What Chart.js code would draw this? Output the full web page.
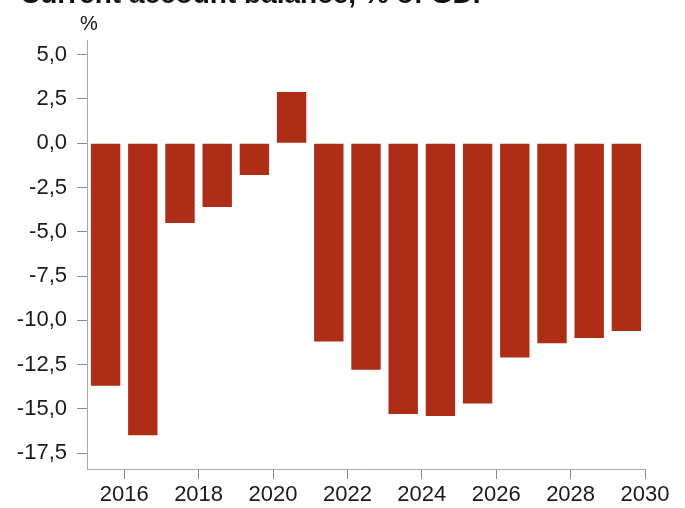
<!DOCTYPE html>
<html lang="en">

<head>
    <meta charset="UTF-8">
    <title>Current account balance</title>
    <script src="https://cdn.jsdelivr.net/npm/chart.js"></script>
    <style>
        body { margin: 0; background: #fff; overflow: hidden; }
        .wrap { position: relative; width: 685px; height: 508px; }
        .title {
            position: absolute; left: 20px; top: -20px; margin: 0;
            font: bold 28px "Liberation Sans", Arial, sans-serif; line-height: 28px;
            color: #111; white-space: nowrap;
        }
    </style>
</head>

<body>
    <div class="wrap">
        <div class="title">Current account balance, % of GDP</div>
        <canvas id="caChart"></canvas>
    </div>
    <script>
        // данные
        const years = [2016, 2017, 2018, 2019, 2020, 2021, 2022, 2023, 2024, 2025, 2026, 2027, 2028, 2029, 2030];
        const balance = [-13.7, -16.5, -4.5, -3.6, -1.8, 2.9, -11.2, -12.8, -15.3, -15.4, -14.7, -12.1, -11.3, -11.0, -10.6];
        const yTicks = [5, 2.5, 0, -2.5, -5, -7.5, -10, -12.5, -15, -17.5];
        const xTicks = [2016, 2018, 2020, 2022, 2024, 2026, 2028, 2030];
        const unitLabel = '%';

        const tickFont = { family: '"Liberation Sans", Arial, sans-serif', size: 22 };

        // подпись "%" над осью
        const unitPlugin = {
            id: 'unitLabel',
            afterDraw(chart) {
                const ctx = chart.ctx;
                ctx.save();
                ctx.font = '20px "Liberation Sans", Arial, sans-serif';
                ctx.fillStyle = '#111';
                ctx.textAlign = 'center';
                ctx.textBaseline = 'alphabetic';
                ctx.fillText(unitLabel, chart.chartArea.left + 2, 30);
                ctx.restore();
            }
        };

        new Chart(document.getElementById('caChart'), {
            type: 'bar',
            data: {
                datasets: [{
                    data: years.map((y, i) => ({ x: y - 0.5, y: balance[i] })),
                    backgroundColor: '#ae2d17',
                    borderWidth: 0,
                    barPercentage: 1,
                    categoryPercentage: 0.79
                }]
            },
            options: {
                responsive: true,
                maintainAspectRatio: false,
                animation: false,
                layout: { padding: { top: 40, right: 40, left: 0, bottom: 0 } },
                plugins: { legend: { display: false }, tooltip: { enabled: false } },
                scales: {
                    x: {
                        type: 'linear',
                        min: 2015,
                        max: 2030,
                        offset: false,
                        grid: { offset: false, drawOnChartArea: false, drawTicks: true, tickLength: 10, color: '#888' },
                        border: { color: '#aaa' },
                        afterBuildTicks: s => { s.ticks = xTicks.map(v => ({ value: v })); },
                        afterFit: s => { s.height = 39; },
                        ticks: {
                            color: '#1a1a1a',
                            font: tickFont,
                            padding: 3,
                            maxRotation: 0,
                            autoSkip: false,
                            callback: v => String(v)
                        }
                    },
                    y: {
                        min: -18.4,
                        max: 5.83,
                        grid: { drawOnChartArea: false, drawTicks: true, tickLength: 10, color: '#888' },
                        border: { color: '#aaa' },
                        afterBuildTicks: s => { s.ticks = yTicks.map(v => ({ value: v })); },
                        afterFit: s => { s.width = 87; },
                        ticks: {
                            color: '#1a1a1a',
                            font: tickFont,
                            padding: 10,
                            callback: v => v.toFixed(1).replace('.', ',')
                        }
                    }
                }
            },
            plugins: [unitPlugin]
        });
    </script>
</body>

</html>
